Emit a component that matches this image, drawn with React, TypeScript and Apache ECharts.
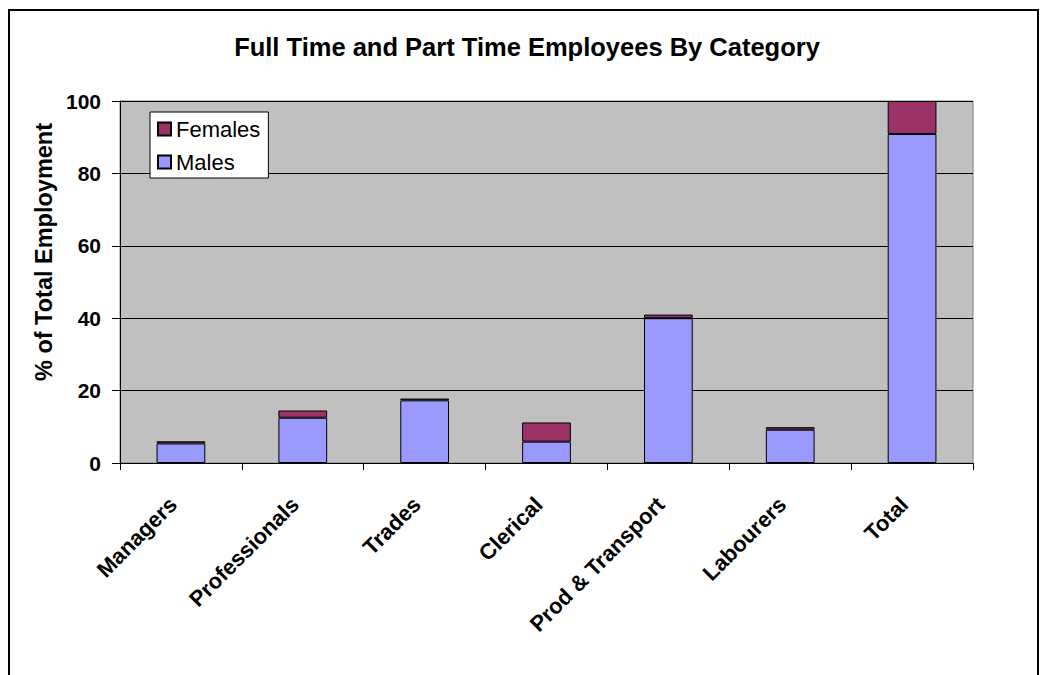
import React, { useEffect, useRef } from "react";
import * as echarts from "echarts";

const categories = ["Managers", "Professionals", "Trades", "Clerical", "Prod & Transport", "Labourers", "Total"];
const males = [5.4, 12.5, 17.3, 5.9, 40.0, 9.2, 90.9];
const females = [0.6, 2.0, 0.5, 5.3, 1.0, 0.7, 9.1];
const yTicks = { min: 0, max: 100, interval: 20 };
const titleText = "Full Time and Part Time Employees By Category";
const yName = "% of Total Employment";

const FONT = "'Liberation Sans', Arial, sans-serif";

export default function App() {
  const ref = useRef<HTMLDivElement>(null);
  useEffect(() => {
    if (!ref.current) return;
    const chart = echarts.init(ref.current, null, { renderer: "svg" });
    chart.setOption({
      animation: false,
      backgroundColor: "#ffffff",
      textStyle: { fontFamily: FONT },
      title: {
        text: titleText,
        left: 522,
        top: 29,
        textAlign: "center",
        textStyle: { fontFamily: FONT, fontSize: 25.5, fontWeight: "bold", color: "#000" },
      },
      legend: {
        data: ["Females", "Males"],
        orient: "vertical",
        left: 150,
        top: 112,
        backgroundColor: "#ffffff",
        borderColor: "#000",
        borderWidth: 1,
        padding: [6, 8, 5, 7],
        itemWidth: 13,
        itemHeight: 13,
        itemGap: 11,
        icon: "rect",
        textStyle: { fontFamily: FONT, fontSize: 22, color: "#000", lineHeight: 22 },
      },
      grid: {
        left: 120,
        right: 68,
        top: 101,
        bottom: 212,
        show: true,
        backgroundColor: "#C0C0C0",
        borderColor: "#808080",
        borderWidth: 1,
      },
      xAxis: {
        type: "category",
        data: categories,
        axisLine: { show: true, lineStyle: { color: "#000", width: 1 } },
        axisTick: { show: true, length: 7, alignWithLabel: false, lineStyle: { color: "#000" } },
        axisLabel: {
          rotate: 45,
          margin: 30,
          padding: [0, 11, 0, 0],
          interval: 0,
          fontFamily: FONT,
          fontSize: 22,
          fontWeight: "bold",
          color: "#000",
        },
      },
      yAxis: {
        type: "value",
        min: yTicks.min,
        max: yTicks.max,
        interval: yTicks.interval,
        axisLine: { show: true, lineStyle: { color: "#000", width: 1 } },
        axisTick: { show: true, length: 8, lineStyle: { color: "#000" } },
        axisLabel: { margin: 19, fontFamily: FONT, fontSize: 21, fontWeight: "bold", color: "#000" },
        splitLine: { show: true, lineStyle: { color: "#000", width: 1 } },
      },
      series: [
        {
          name: "Males",
          type: "bar",
          stack: "total",
          barWidth: "40%",
          data: males,
          itemStyle: { color: "#9999FF", borderColor: "#000", borderWidth: 1 },
        },
        {
          name: "Females",
          type: "bar",
          stack: "total",
          barWidth: "40%",
          data: females,
          itemStyle: { color: "#993366", borderColor: "#000", borderWidth: 1 },
        },
      ],
      graphic: [
        {
          type: "text",
          x: 44,
          y: 252,
          rotation: Math.PI / 2,
          silent: true,
          style: {
            text: yName,
            fontFamily: FONT,
            fontSize: 23.5,
            fontWeight: "bold",
            fill: "#000",
            align: "center",
            verticalAlign: "middle",
          },
        },
        {
          type: "rect",
          shape: { x: 9, y: 10, width: 1029, height: 800 },
          style: { fill: "none", stroke: "#000", lineWidth: 2 },
          silent: true,
          z: 100,
        },
      ],
    });
    return () => chart.dispose();
  }, []);
  return (
    <div
      ref={ref}
      style={{ position: "absolute", left: 0, top: 0, width: 1041, height: 675 }}
    />
  );
}
